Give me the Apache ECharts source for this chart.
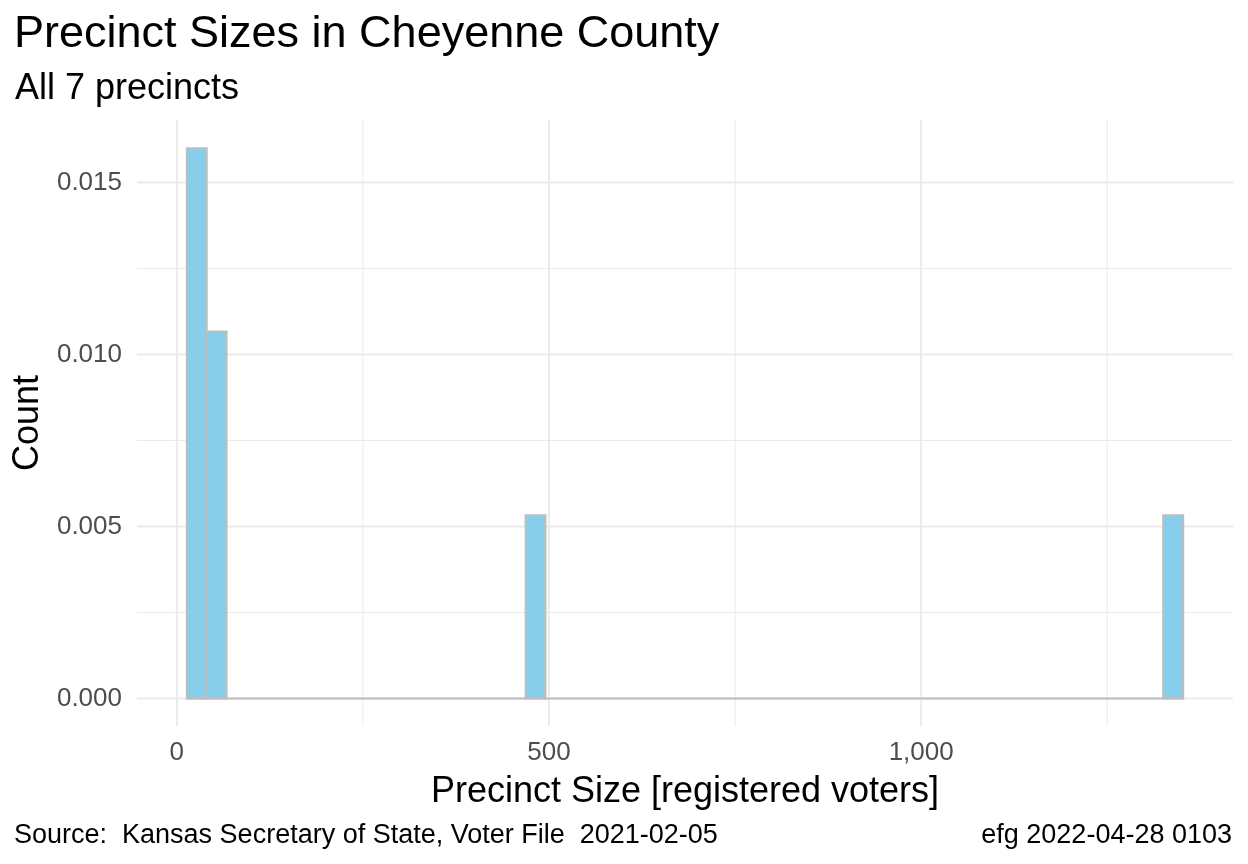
<!DOCTYPE html>
<html>
<head>
<meta charset="utf-8">
<script src="https://cdn.jsdelivr.net/npm/echarts@6/dist/echarts.min.js"></script>
<style>
html,body{margin:0;padding:0;background:#fff;}
#chart{width:1248px;height:864px;}
</style>
</head>
<body>
<div id="chart"></div>
<script>
// Histogram bins (registered voters) and density values
const binStart = [13.4, 40.2, 468.5, 1325.1];
const binEnd   = [40.2, 66.9, 495.3, 1352.0];
const density  = [0.01600, 0.01067, 0.00533, 0.00533];
// range covered by the (mostly zero-height) bins
const binRange = [13.4, 1352.0];

const xTickValues = [0, 500, 1000];
const xTickLabels = ['0', '500', '1,000'];
const xMinorValues = [250, 750, 1250];
const yTickValues = [0, 0.005, 0.010, 0.015];
const yTickLabels = ['0.000', '0.005', '0.010', '0.015'];
const yMinorValues = [0.0025, 0.0075, 0.0125];

const FONT = '"Liberation Sans", Arial, sans-serif';
const GRID_COLOR = '#EBEBEB';

const barData = binStart.map((s, i) => [s, binEnd[i], density[i]]);

// gridline items: [value, orientation(0 = vertical, 1 = horizontal), major(1)/minor(0)]
const gridData = []
  .concat(xMinorValues.map(v => [v, 0, 0]))
  .concat(yMinorValues.map(v => [v, 1, 0]))
  .concat(xTickValues.map(v => [v, 0, 1]))
  .concat(yTickValues.map(v => [v, 1, 1]));

const chart = echarts.init(document.getElementById('chart'), null, { renderer: 'canvas' });

chart.setOption({
  animation: false,
  backgroundColor: '#ffffff',
  textStyle: { fontFamily: FONT },
  title: [
    {
      text: 'Precinct Sizes in Cheyenne County',
      left: 14, top: 12, padding: 0,
      textStyle: { fontFamily: FONT, fontSize: 45, fontWeight: 'normal', color: '#000' }
    },
    {
      text: 'All 7 precincts',
      left: 15, top: 71, padding: 0,
      textStyle: { fontFamily: FONT, fontSize: 36, fontWeight: 'normal', color: '#000' }
    }
  ],
  graphic: [
    {
      type: 'text', left: 14, top: 822,
      style: { text: 'Source:  Kansas Secretary of State, Voter File  2021-02-05', font: '27px ' + FONT, fill: '#000' }
    },
    {
      type: 'text', right: 16, top: 822,
      style: { text: 'efg 2022-04-28 0103', font: '27px ' + FONT, fill: '#000' }
    }
  ],
  grid: { left: 137, right: 15, top: 120, bottom: 138, containLabel: false, outerBoundsMode: 'none' },
  xAxis: {
    type: 'value',
    min: -53.5, max: 1418.9,
    name: 'Precinct Size [registered voters]',
    nameLocation: 'middle', nameGap: 48,
    nameTextStyle: { fontFamily: FONT, fontSize: 36, color: '#000' },
    axisLine: { show: false },
    axisTick: { show: false, customValues: xTickValues },
    splitLine: { show: false },
    axisLabel: {
      customValues: xTickValues,
      formatter: v => { const i = xTickValues.indexOf(v); return i >= 0 ? xTickLabels[i] : ''; },
      fontFamily: FONT, fontSize: 26, color: '#4D4D4D', margin: 14
    }
  },
  yAxis: {
    type: 'value',
    min: -0.0008, max: 0.01682,
    name: 'Count',
    nameLocation: 'middle', nameGap: 85,
    nameTextStyle: { fontFamily: FONT, fontSize: 36, color: '#000' },
    axisLine: { show: false },
    axisTick: { show: false, customValues: yTickValues },
    splitLine: { show: false },
    axisLabel: {
      customValues: yTickValues,
      formatter: v => {
        const i = yTickValues.findIndex(t => Math.abs(t - v) < 1e-9);
        return i >= 0 ? yTickLabels[i] : '';
      },
      fontFamily: FONT, fontSize: 26, color: '#4D4D4D', margin: 15
    }
  },
  series: [
    {
      type: 'custom',
      name: 'grid',
      silent: true,
      z: 0,
      data: gridData,
      renderItem: function (params, api) {
        const cs = params.coordSys;
        const v = api.value(0);
        const horiz = api.value(1) === 1;
        const major = api.value(2) === 1;
        let shape;
        if (horiz) {
          const y = api.coord([0, v])[1];
          shape = { x1: cs.x, y1: y, x2: cs.x + cs.width, y2: y };
        } else {
          const x = api.coord([v, 0])[0];
          shape = { x1: x, y1: cs.y, x2: x, y2: cs.y + cs.height };
        }
        return {
          type: 'line',
          shape: shape,
          style: { stroke: GRID_COLOR, lineWidth: major ? 2 : 1 }
        };
      }
    },
    {
      type: 'line',
      name: 'baseline',
      data: [[binRange[0], 0], [binRange[1], 0]],
      symbol: 'none',
      silent: true,
      z: 2,
      lineStyle: { color: '#BEBEBE', width: 2 }
    },
    {
      type: 'custom',
      name: 'bins',
      z: 3,
      data: barData,
      renderItem: function (params, api) {
        const p0 = api.coord([api.value(0), api.value(2)]);
        const p1 = api.coord([api.value(1), 0]);
        return {
          type: 'rect',
          shape: { x: p0[0], y: p0[1], width: p1[0] - p0[0], height: p1[1] - p0[1] },
          style: { fill: '#87CEEB', stroke: '#BEBEBE', lineWidth: 2 }
        };
      }
    }
  ]
});
</script>
</body>
</html>
